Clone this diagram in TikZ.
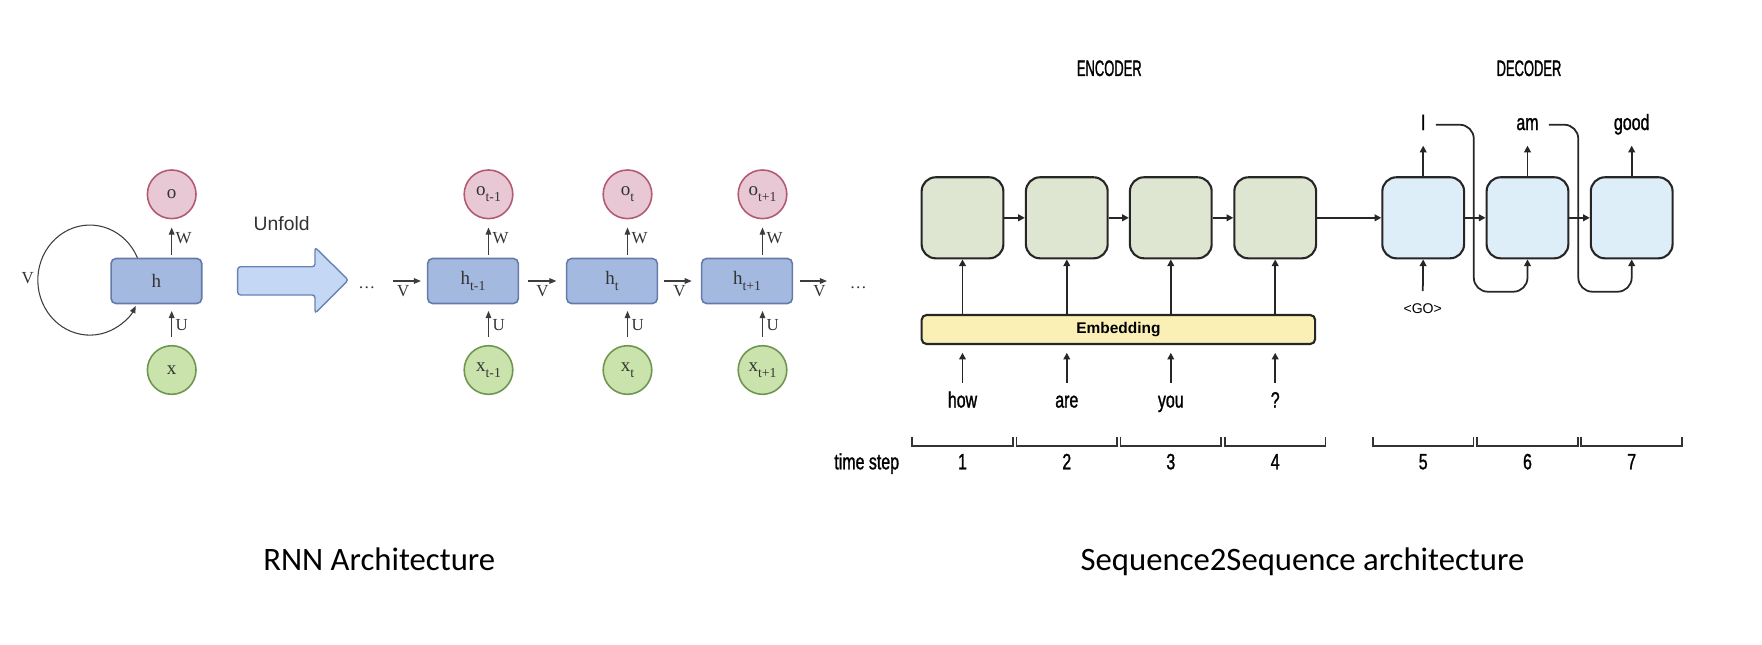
\documentclass[tikz,border=0pt]{standalone}
\usepackage{fontspec}
\setmainfont{Liberation Serif}
\setsansfont{Liberation Sans}
\newfontfamily\capfont{Carlito}
\newfontfamily\narrowfont{Liberation Sans}[FakeStretch=0.72, FakeBold=1.2]
\newfontfamily\headfont{Liberation Sans}[FakeStretch=0.58, FakeBold=1.2]
\usetikzlibrary{arrows.meta,positioning,calc}

\definecolor{hfill}{RGB}{164,185,224}
\definecolor{hdraw}{RGB}{100,122,170}
\definecolor{ofill}{RGB}{232,200,212}
\definecolor{odraw}{RGB}{180,90,112}
\definecolor{xfill}{RGB}{202,226,172}
\definecolor{xdraw}{RGB}{110,150,80}
\definecolor{unfoldfill}{RGB}{196,216,246}
\definecolor{unfolddraw}{RGB}{105,130,180}
\definecolor{encfill}{RGB}{222,230,210}
\definecolor{decfill}{RGB}{222,238,248}
\definecolor{embfill}{RGB}{250,240,182}
\definecolor{rnnline}{RGB}{60,60,60}

\newcommand{\rsub}[1]{\raisebox{-1.8pt}{\fontsize{3.9}{4}\selectfont #1}}

\begin{document}
\begin{tikzpicture}[x=0.01cm, y=0.01cm,
	hbox/.style={draw=hdraw, fill=hfill, line width=0.45pt, rounded corners=1.4pt, minimum width=0.906cm, minimum height=0.45cm, inner sep=0pt, text=black!80, font=\fontsize{5.4}{6}\selectfont},
	ocirc/.style={circle, draw=odraw, fill=ofill, line width=0.45pt, minimum size=0.486cm, inner sep=0pt, text=black!80, font=\fontsize{5.4}{6}\selectfont},
	xcirc/.style={circle, draw=xdraw, fill=xfill, line width=0.45pt, minimum size=0.486cm, inner sep=0pt, text=black!80, font=\fontsize{5.4}{6}\selectfont},
	rarr/.style={draw=rnnline, line width=0.3pt, -{Triangle[length=2pt,width=1.6pt]}},
	wlab/.style={inner sep=1pt, text=black!80, font=\fontsize{4.8}{5}\selectfont},
	unfoldarr/.style={draw=unfolddraw, fill=unfoldfill, line width=0.4pt, rounded corners=0.8pt},
	cell/.style={draw=black!85, line width=0.6pt, rounded corners=4pt, minimum width=0.817cm, minimum height=0.81cm, inner sep=0pt},
	enc/.style={cell, fill=encfill},
	dec/.style={cell, fill=decfill},
	emb/.style={draw=black!85, fill=embfill, line width=0.6pt, rounded corners=1.4pt, minimum width=3.933cm, minimum height=0.29cm, inner sep=0pt, font=\sffamily\bfseries\fontsize{4.4}{5}\selectfont},
	sarr/.style={draw=black!85, line width=0.5pt, -{Triangle[length=1.9pt,width=1.9pt]}},
	word/.style={anchor=base, inner sep=1pt, text height=4.4pt, text depth=1.4pt, font=\narrowfont\fontsize{6.3}{7}\selectfont},
	headlab/.style={font=\headfont\fontsize{6.35}{7}\selectfont},
	golab/.style={inner sep=1pt, font=\sffamily\fontsize{4}{5}\selectfont},
	bracket/.style={draw=black!80, line width=0.55pt},
	captionlab/.style={anchor=base, font=\capfont\fontsize{9.3}{11}\selectfont}]
	% kader
	\useasboundingbox (0,0) rectangle (1762,644);

	% RNN, gevouwen
	\node[hbox] (h) at (156.4,363) {h};
	\node[ocirc] (o) at (171.7,449.7) {o};
	\node[xcirc] (x) at (171.7,274) {x};
	\draw[rarr, shorten <=0.9pt, shorten >=2.3pt] (o |- h.north) -- (o.south) node[wlab, midway, right] {W};
	\draw[rarr, shorten <=2.2pt, shorten >=1.9pt] (x.north) -- (x |- h.south) node[wlab, midway, right] {U};
	\draw[rarr] ([xshift=-0.19cm]h.north) arc[start angle=24, end angle=332, x radius=0.52cm, y radius=0.55cm] node[wlab, pos=0.5, left] {V};

	% unfold
	\draw[unfoldarr] (237.7,349) -- (237.7,377.3) -- (315,377.3) -- (315,396.7) -- (348.3,364) -- (315,330.7) -- (315,349) -- cycle;
	\node[inner sep=0pt, text=black!80, font=\sffamily\fontsize{5.5}{6}\selectfont] (unfold) at (281.7,420.7) {Unfold};

	% RNN, uitgevouwen
	\foreach \i/\hx/\s in {1/473/t-1, 2/612/t, 3/747/t+1} {
		\node[hbox] (h\i) at (\hx,363) {h\rsub{\s}};
		\node[ocirc] (o\i) at (\hx+15.5,449.7) {o\rsub{\s}};
		\node[xcirc] (x\i) at (\hx+15.5,274) {x\rsub{\s}};
		\draw[rarr, shorten <=0.9pt, shorten >=2.3pt] (o\i |- h\i.north) -- (o\i.south) node[wlab, midway, right] {W};
		\draw[rarr, shorten <=2.2pt, shorten >=1.9pt] (x\i.north) -- (x\i |- h\i.south) node[wlab, midway, right] {U};
	}
	\node[wlab] (dl) at (366.7,356) {\dots};
	\node[wlab] (dr) at (858.3,356) {\dots};
	\draw[rarr, shorten <=4pt, shorten >=1.7pt] (dl.east |- h1.west) -- (h1.west) node[wlab, midway, below] {V};
	\draw[rarr, shorten <=2.4pt, shorten >=2.7pt] (h1.east) -- (h2.west) node[wlab, midway, below] {V};
	\draw[rarr, shorten <=1.8pt, shorten >=2.6pt] (h2.east) -- (h3.west) node[wlab, midway, below] {V};
	\draw[rarr, shorten <=1.9pt, shorten >=5.3pt] (h3.east) -- (h3.east -| dr.west) node[wlab, midway, below] {V};

	% seq2seq
	\node[headlab] (enchead) at (1109.3,575.7) {ENCODER};
	\node[headlab] (dechead) at (1529,575.7) {DECODER};
	\node[emb] (emb) at (1118.4,314.5) {Embedding};
	\foreach \i/\x/\w in {1/962.5/how, 2/1066.8/are, 3/1170.8/you, 4/1275.2/?} {
		\node[enc] (e\i) at (\x,426.2) {};
		\node[word] (w\i) at (\x,236.5) {\w};
		\draw[sarr] (e\i |- emb.north) -- (e\i.south);
		\draw[sarr, shorten <=1.5pt, shorten >=2.2pt] (w\i.north) -- (w\i |- emb.south);
	}
	\foreach \i/\x/\w in {1/1423.2/I, 2/1527.5/am, 3/1631.7/good} {
		\node[dec] (d\i) at (\x,426.2) {};
		\node[word] (out\i) at (\x,514) {\w};
		\draw[sarr, shorten >=1.85pt] (d\i.north) -- (out\i.south);
	}
	\draw[sarr] (e1) -- (e2);
	\draw[sarr] (e2) -- (e3);
	\draw[sarr] (e3) -- (e4);
	\draw[sarr] (e4) -- (d1);
	\draw[sarr] (d1) -- (d2);
	\draw[sarr] (d2) -- (d3);

	% <GO> en terugkoppeling
	\node[golab] (go) at (1422.7,335.7) {<GO>};
	\draw[sarr, shorten <=2.3pt] (go.north) -- (d1.south);
	\coordinate (fb1) at (1473.8,352.3);
	\coordinate (fb2) at (1578.3,352.3);
	\draw[sarr, rounded corners=4pt, shorten <=1.75pt] (out1.east) -| (fb1) -| (d2.south);
	\draw[sarr, rounded corners=4pt, shorten <=1.75pt] (out2.east) -| (fb2) -| (d3.south);

	% time steps
	\node[word, anchor=base east] (tstep) at (903.3,174.7) {time step};
	\foreach \n/\x in {1/962.5, 2/1066.8, 3/1170.8, 4/1275.2, 5/1423.2, 6/1527.5, 7/1631.7} {
		\draw[bracket] (\x-50.3,207.3) |- (\x+50.3,198) -- (\x+50.3,207.3);
		\node[word] (n\n) at (\x,174.7) {\n};
	}

	% onderschriften
	\node[captionlab] (rnncap) at (379.2,74) {RNN Architecture};
	\node[captionlab] (s2scap) at (1302.5,74) {Sequence2Sequence architecture};
\end{tikzpicture}
\end{document}
